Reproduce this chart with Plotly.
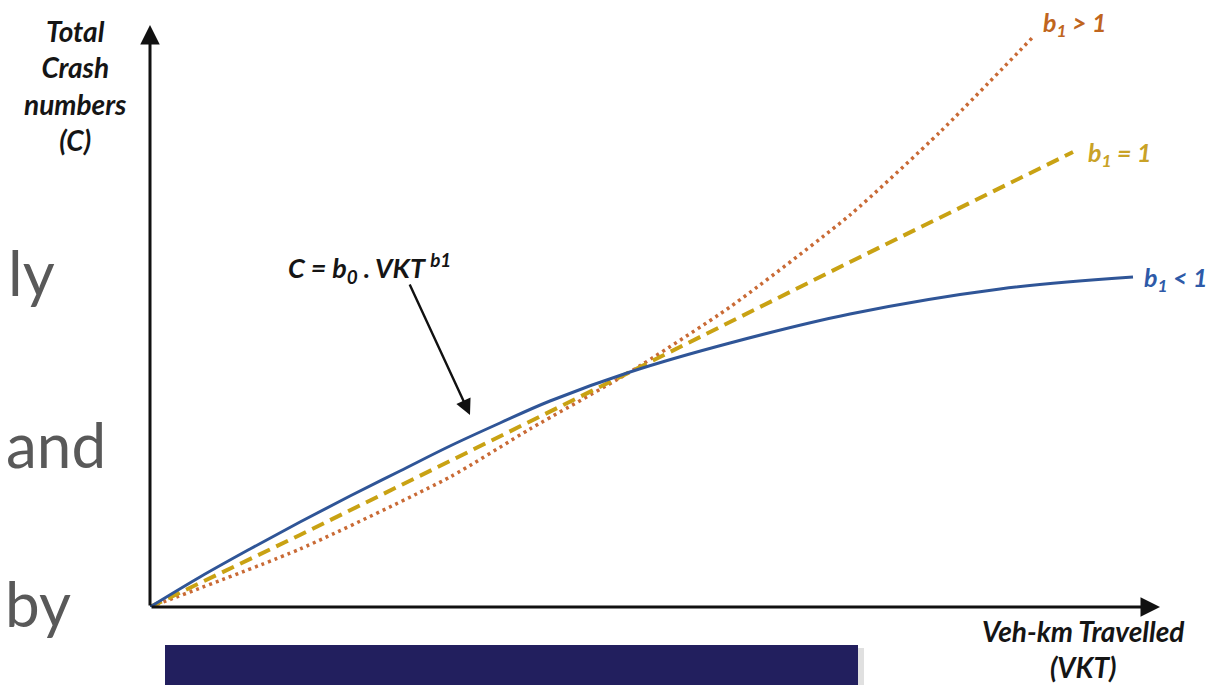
import plotly.graph_objects as go

# ---- data (arbitrary units) ----
vkt_lt1 = [0, 0.5, 1.0, 1.5, 2.0, 2.5, 3.0, 3.5, 4.0, 4.8, 5.8, 7.0, 8.5, 9.83]
crash_lt1 = [0, 0.30, 0.58, 0.85, 1.11, 1.36, 1.61, 1.84, 2.06, 2.35, 2.64, 2.93, 3.18, 3.30]

vkt_eq1 = [0, 1.5, 3.0, 4.8, 7.0, 9.23]
crash_eq1 = [0, 0.72, 1.46, 2.35, 3.45, 4.55]

vkt_gt1 = [0, 1.5, 3.0, 3.8, 4.8, 5.8, 7.0, 7.9, 8.83]
crash_gt1 = [0, 0.58, 1.30, 1.78, 2.35, 3.00, 3.92, 4.75, 5.70]

series_labels = ["b<sub>1</sub> &lt; 1", "b<sub>1</sub> = 1", "b<sub>1</sub> &gt; 1"]
x_title = "Veh-km Travelled<br>(VKT)"
y_title = "Total<br>Crash<br>numbers<br>(C)"
formula = "C = b<sub>0</sub> . VKT <sup>b1</sup>"
slide_words = ["ly", "and", "by"]

X_MAX, Y_MAX = 10.10, 5.82

BLUE = "#2F5597"
GOLD = "#C9A213"
ORANGE = "#C96A35"
FONT = "Lato"

W, H = 1219, 685
OFF = 8  # page body margin of the html page
# plot area in page pixels
PL, PR, PT, PB = 150, 1160, 25, 607


def fx(p):
    return (p - PL) / (PR - PL)


def fy(p):
    return (PB - p) / (PB - PT)


fig = go.Figure()
fig.add_trace(go.Scatter(x=vkt_gt1, y=crash_gt1, mode="lines", line_shape="spline",
                         line=dict(color=ORANGE, width=3.5, dash="3px,4px", smoothing=0.6),
                         hoverinfo="skip", showlegend=False))
fig.add_trace(go.Scatter(x=vkt_eq1, y=crash_eq1, mode="lines",
                         line=dict(color=GOLD, width=4, dash="13px,7px"),
                         hoverinfo="skip", showlegend=False))
fig.add_trace(go.Scatter(x=vkt_lt1, y=crash_lt1, mode="lines", line_shape="spline",
                         line=dict(color=BLUE, width=3),
                         hoverinfo="skip", showlegend=False))

ann = []
# axes as arrows
ann.append(dict(x=X_MAX, y=0, ax=0, ay=0, xref="x", yref="y", axref="x", ayref="y",
                showarrow=True, arrowhead=2, arrowsize=1.3, arrowwidth=3, arrowcolor="#111111", text=""))
ann.append(dict(x=0, y=Y_MAX, ax=0, ay=0, xref="x", yref="y", axref="x", ayref="y",
                showarrow=True, arrowhead=2, arrowsize=1.3, arrowwidth=3, arrowcolor="#111111", text=""))
# formula arrow
ann.append(dict(x=3.20, y=1.92, ax=2.59, ay=3.24, xref="x", yref="y", axref="x", ayref="y",
                showarrow=True, arrowhead=2, arrowsize=1.3, arrowwidth=2.4, arrowcolor="#111111", text=""))

TXT = "#151515"
ann.append(dict(x=fx(75), y=fy(86), xref="paper", yref="paper", text=y_title, showarrow=False,
                font=dict(family=FONT, size=28, color=TXT, weight="bold", style="italic"),
                xanchor="center", yanchor="middle", align="center"))
ann.append(dict(x=fx(1083), y=fy(649), xref="paper", yref="paper", text=x_title, showarrow=False,
                font=dict(family=FONT, size=28, color=TXT, weight="bold", style="italic"),
                xanchor="center", yanchor="middle", align="center"))
ann.append(dict(x=fx(369), y=fy(268), xref="paper", yref="paper", text=formula, showarrow=False,
                font=dict(family=FONT, size=27, color=TXT, weight="bold", style="italic"),
                xanchor="center", yanchor="middle"))


def lab_font(c):
    return dict(family=FONT, size=25, color=c, weight="bold", style="italic")


ann.append(dict(x=vkt_lt1[-1], y=crash_lt1[-1], xref="x", yref="y", text=series_labels[0], showarrow=False,
                font=lab_font("#2E5AA8"), xanchor="left", yanchor="middle", xshift=9, yshift=-2))
ann.append(dict(x=vkt_eq1[-1], y=crash_eq1[-1], xref="x", yref="y", text=series_labels[1], showarrow=False,
                font=lab_font("#C9A227"), xanchor="left", yanchor="middle", xshift=13, yshift=-2))
ann.append(dict(x=vkt_gt1[-1], y=crash_gt1[-1], xref="x", yref="y", text=series_labels[2], showarrow=False,
                font=lab_font("#C0651E"), xanchor="left", yanchor="middle", xshift=8, yshift=13))

# slide text fragments on the left
for word, xl, yc in zip(slide_words, [6, 4, 3], [272, 444, 603]):
    ann.append(dict(x=fx(xl + OFF), y=fy(yc), xref="paper", yref="paper", text=word, showarrow=False,
                    font=dict(family=FONT, size=62, color="#595959"), xanchor="left", yanchor="middle",
                    xshift=-OFF))

shapes = [
    dict(type="rect", xref="paper", yref="paper", x0=fx(168), x1=fx(864), y0=fy(700), y1=fy(648),
         fillcolor="rgba(0,0,0,0.12)", line=dict(width=0), layer="above"),
    dict(type="rect", xref="paper", yref="paper", x0=fx(165), x1=fx(858), y0=fy(700), y1=fy(645),
         fillcolor="#221F5E", line=dict(width=0), layer="above"),
]

fig.update_layout(
    width=W, height=H,
    margin=dict(l=PL - OFF, r=W - (PR - OFF), t=PT - OFF, b=H - (PB - OFF)),
    paper_bgcolor="white", plot_bgcolor="white",
    xaxis=dict(range=[0, X_MAX], visible=False, fixedrange=True),
    yaxis=dict(range=[0, Y_MAX], visible=False, fixedrange=True),
    annotations=ann, shapes=shapes, showlegend=False,
)

fig.write_html("out.html")
